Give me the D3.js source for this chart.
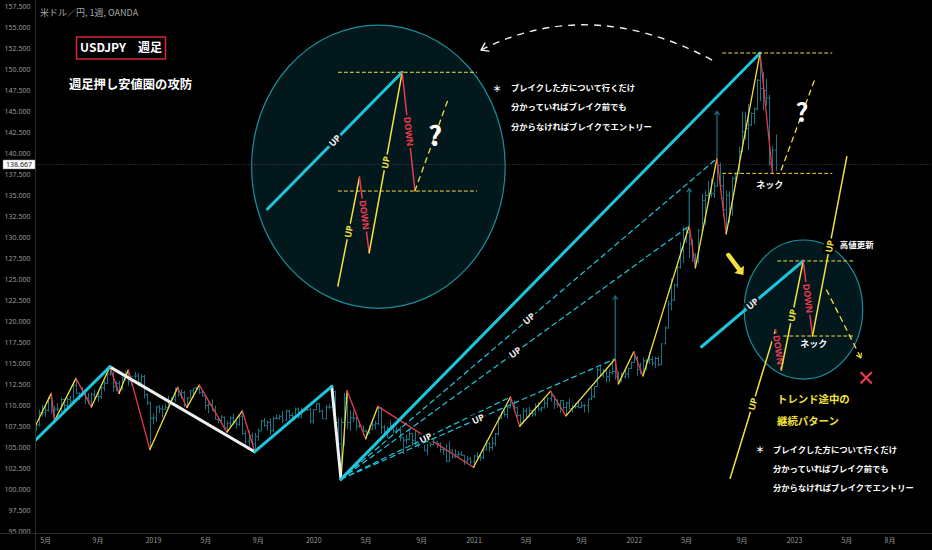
<!DOCTYPE html>
<html lang="ja">
<head>
<meta charset="utf-8">
<title>USDJPY 週足</title>
<script src="https://cdn.jsdelivr.net/npm/d3@7"></script>
<style>
  html, body { margin: 0; background: #000; }
  svg { display: block; font-family: "Noto Sans CJK JP", "Noto Sans", sans-serif; }
</style>
</head>
<body>
<div id="chart"></div>
<script>
// OANDA USD/JPY weekly bars, one per Monday from firstWeek (open = previous close)
const firstWeek = "2018-04-09";
const firstOpen = 106.93;
const weekHigh = [
  107.78,107.7,109.47,110.03,109.98,111.0,111.4,109.9,110.27,110.9,110.75,110.9,111.13,112.8,113.18,111.5,112.15,111.5,111.44,111.49,
  111.83,111.75,112.17,112.88,113.7,114.55,114.0,112.85,112.89,113.38,114.08,114.22,113.38,113.95,113.83,113.7,113.6,111.4,110.4,
  108.99,109.9,109.99,109.97,110.16,111.13,110.95,112.08,112.13,111.89,111.69,110.97,111.8,112.06,112.17,112.4,111.69,111.13,110.32,110.67,
  109.93,108.48,108.8,108.66,108.16,108.64,108.99,108.23,108.79,109.32,106.96,106.98,106.73,106.7,107.23,108.26,108.48,108.18,108.47,108.63,
  108.9,108.86,109.29,109.49,109.45,109.1,109.7,109.73,109.7,109.68,109.55,109.68,
  109.54,110.29,110.2,109.5,110.02,110.14,112.23,111.71,108.5,108.5,111.46,111.71,109.38,109.38,108.6,108.05,107.57,107.05,107.6,107.98,
  108.09,109.85,109.74,107.64,107.44,108.16,107.79,107.42,107.43,106.22,106.47,107.05,106.65,106.95,106.55,106.45,106.2,105.7,105.8,106.11,
  105.75,105.54,105.0,105.33,105.68,104.71,104.76,104.55,104.5,104.07,103.92,103.83,
  104.06,104.4,104.09,104.94,105.77,105.63,106.22,106.69,108.64,109.24,109.36,109.85,110.97,110.52,109.78,108.91,109.7,109.69,109.8,109.4,
  110.2,110.33,109.84,110.82,110.97,111.66,111.12,110.7,110.59,110.59,110.37,110.8,110.07,110.25,110.43,110.45,110.16,110.79,112.08,112.25,
  114.46,114.7,114.31,114.44,114.2,114.97,115.52,114.03,113.95,114.25,114.46,115.18,
  116.35,115.84,115.06,115.69,115.49,116.34,115.81,115.77,115.8,117.35,119.4,122.44,125.1,124.45,126.68,129.4,131.25,131.17,131.35,129.77,
  128.1,130.99,135.19,135.59,136.71,137.0,136.57,139.39,138.88,137.46,135.58,135.5,137.23,137.71,140.8,144.99,144.95,145.9,144.89,145.47,
  148.86,151.95,149.71,148.85,146.97,140.8,142.25
];
const weekLow = [
  106.62,106.9,107.47,108.65,108.62,109.2,108.95,108.1,109.25,109.2,109.37,109.37,110.27,110.4,111.37,110.58,111.0,110.1,110.1,109.77,
  110.76,110.38,110.74,111.66,112.5,113.5,111.6,111.62,111.38,111.79,112.9,112.3,112.3,113.13,112.23,112.5,110.81,109.98,104.7,
  107.77,107.99,109.06,108.5,109.5,109.72,110.31,110.36,111.05,110.79,109.76,109.7,110.82,110.84,111.66,111.33,111.0,109.47,109.02,109.29,
  108.27,107.81,108.02,107.05,106.78,107.5,107.66,107.21,107.52,106.5,105.27,105.05,105.09,104.45,105.75,106.9,107.45,106.97,106.48,106.81,
  108.3,108.25,107.89,108.15,108.27,108.24,108.54,108.42,108.43,109.24,109.28,107.85,
  107.77,109.43,109.1,108.3,108.31,109.55,109.71,107.53,105.0,101.18,105.15,107.15,106.92,107.95,106.99,107.26,106.36,105.99,106.5,107.05,
  107.09,107.61,106.58,106.66,106.07,107.17,106.64,106.59,105.68,104.19,105.3,105.81,105.1,105.2,104.95,105.84,104.5,104.0,105.06,105.2,
  104.87,104.34,104.04,103.18,103.2,103.65,103.7,103.65,103.9,102.87,103.2,102.96,
  102.59,103.52,103.33,103.56,104.6,104.42,104.6,105.11,106.38,108.33,108.6,108.41,109.6,109.2,108.6,107.48,107.85,108.34,108.54,108.56,
  108.66,109.32,109.19,109.59,109.7,110.42,109.53,109.7,109.07,109.36,108.72,109.55,109.11,109.6,109.6,109.6,109.12,109.11,110.6,110.82,
  112.2,113.41,113.26,112.72,112.73,113.58,113.05,112.53,112.75,113.14,113.2,114.32,
  115.02,113.48,113.71,113.47,114.15,114.89,114.69,114.4,114.64,114.76,117.27,119.11,121.28,122.38,124.02,126.25,126.95,129.3,127.52,127.03,
  126.36,126.87,130.63,131.49,134.27,134.75,134.67,136.0,135.57,132.51,130.41,131.73,132.56,136.18,137.48,140.14,141.66,140.36,143.28,143.52,
  145.1,146.23,145.11,145.68,138.5,137.68,137.9
];
const weekClose = [
  107.35,107.63,109.04,109.09,109.39,110.78,109.38,109.53,109.54,110.66,109.96,110.67,110.47,112.37,111.42,111.05,111.25,110.87,110.48,111.24,
  110.99,111.02,112.06,112.59,113.69,113.71,112.19,112.55,111.89,113.2,113.82,112.82,113.44,113.47,112.69,113.38,111.23,110.27,108.44,
  108.48,109.77,109.55,109.5,109.73,110.48,110.69,111.93,111.17,111.46,109.91,110.86,111.71,112.02,111.9,111.53,111.09,109.95,110.06,109.29,
  108.29,108.18,108.57,107.3,107.85,108.47,107.88,107.72,108.68,106.6,105.68,106.38,105.38,106.27,106.93,108.1,107.55,107.92,106.94,108.42,
  108.44,108.67,108.2,109.26,108.76,108.67,109.52,108.58,109.38,109.43,109.47,108.1,
  109.46,110.15,109.28,108.38,109.76,109.78,111.6,107.89,105.37,107.92,110.8,107.91,108.48,108.43,107.51,107.5,106.91,106.66,107.14,107.63,
  107.78,109.61,107.37,106.86,107.2,107.53,106.91,107.02,106.12,105.83,105.92,106.62,105.8,105.35,106.23,106.16,104.56,105.56,105.3,105.63,
  105.4,104.72,104.65,103.36,104.62,103.83,104.09,104.16,104.02,103.33,103.58,103.25,
  103.94,103.86,103.78,104.68,105.39,104.94,105.45,106.57,108.36,109.04,108.88,109.68,110.26,109.67,108.78,107.88,109.32,108.6,109.34,108.97,
  109.85,109.52,109.67,110.2,110.76,111.05,110.14,110.07,110.54,109.71,110.25,109.58,109.78,109.84,109.71,109.93,109.95,110.73,111.05,112.22,
  114.21,113.5,114.02,113.4,113.86,114.0,113.38,112.8,113.4,113.71,114.36,115.09,
  115.53,114.2,113.72,115.26,115.23,115.43,114.98,115.55,114.82,117.29,119.18,122.05,122.53,124.31,126.42,128.51,129.82,130.55,129.21,127.87,
  127.13,130.86,134.39,134.97,135.2,135.22,136.08,138.56,136.12,133.28,134.99,133.46,137.0,137.61,140.18,142.58,142.94,143.36,144.74,145.26,
  148.7,147.73,147.47,146.6,138.8,140.38,138.667
];
const lastPrice = 138.667;

const priceTicks = [95, 97.5, 100, 102.5, 105, 107.5, 110, 112.5, 115, 117.5, 120, 122.5, 125, 127.5,
  130, 132.5, 135, 137.5, 140, 142.5, 145, 147.5, 150, 152.5, 155, 157.5];
const timeTicks = [
  ["2018-05-07", "5月"], ["2018-09-03", "9月"], ["2019-01-07", "2019"], ["2019-05-06", "5月"],
  ["2019-09-02", "9月"], ["2020-01-06", "2020"], ["2020-05-04", "5月"], ["2020-09-07", "9月"],
  ["2021-01-04", "2021"], ["2021-05-03", "5月"], ["2021-09-06", "9月"], ["2022-01-03", "2022"],
  ["2022-05-02", "5月"], ["2022-09-05", "9月"], ["2023-01-02", "2023"], ["2023-05-01", "5月"],
  ["2023-08-07", "8月"]
];

// drawn analysis: swing points [date, price]
const swingsA = [
  ["2018-04-09", 106.9], ["2018-05-21", 111.4], ["2018-05-28", 108.1], ["2018-07-16", 113.18],
  ["2018-08-20", 109.77], ["2018-10-01", 114.55], ["2018-10-22", 111.38], ["2018-11-12", 114.22],
  ["2018-12-31", 104.7], ["2019-03-04", 112.13], ["2019-03-25", 109.7], ["2019-04-22", 112.4],
  ["2019-06-24", 106.78], ["2019-07-29", 109.32], ["2019-08-26", 104.45]
];
const swingsB = [
  ["2020-03-09", 101.18], ["2020-03-23", 111.71], ["2020-05-04", 105.99], ["2020-06-01", 109.85],
  ["2021-01-04", 102.59], ["2021-03-29", 110.97], ["2021-04-19", 107.48], ["2021-06-28", 111.66],
  ["2021-08-02", 108.72], ["2021-11-22", 115.52], ["2021-11-29", 112.53], ["2022-01-03", 116.35],
  ["2022-01-24", 113.47], ["2022-05-09", 131.35], ["2022-05-23", 126.36], ["2022-07-11", 139.39],
  ["2022-08-01", 130.41], ["2022-10-17", 151.95], ["2022-11-14", 137.68]
];
const cyanTrends = [
  [["2018-04-09", 105.5], ["2018-10-01", 114.55]],
  [["2019-08-26", 104.45], ["2020-02-17", 112.23]],
  [["2020-03-09", 101.18], ["2022-10-17", 151.95]]
];
const whiteTrends = [
  [["2018-10-01", 114.55], ["2019-08-26", 104.45]],
  [["2020-02-17", 112.23], ["2020-03-09", 101.18]]
];
const rayStart = ["2020-03-09", 101.18];
const rayEnds = [["2021-03-29", 110.97], ["2021-11-22", 115.52], ["2022-05-09", 131.35], ["2022-07-11", 139.39]];
const targetArrows = [["2021-11-22", 115.52, 123.0], ["2022-05-09", 131.35, 135.8], ["2022-07-11", 139.39, 145.0]];
const mainGuides = [151.95, 137.61];
const mainGuideSpan = ["2022-07-24", "2023-03-29"];
const mainNextLeg = [["2022-12-04", 138.01], ["2023-02-19", 148.93]];
const mainQuestion = ["2023-01-20", 144.8];
const mainNeck = ["2022-11-08", 136.3];
const returnArc = [["2022-06-30", 151.11], ["2021-09-26", 158.86], ["2021-01-21", 152.3]];

// left inset (pattern sketch)
const insetLBox = [["2019-08-19", 121.53], ["2021-03-17", 155.28]];
const insetLTrend = [["2019-09-24", 133.36], ["2020-07-26", 149.65]];
const insetLWave = [["2020-03-02", 124.19], ["2020-04-20", 137.14], ["2020-05-12", 128.15], ["2020-07-26", 149.65], ["2020-08-24", 135.54]];
const insetLGuides = [149.65, 135.5];
const insetLGuideSpan = ["2020-03-03", "2021-01-11"];
const insetLNext = [["2020-08-24", 135.54], ["2020-11-06", 146.23]];
const insetLQuestion = ["2020-10-09", 141.98];

// right inset (continuation pattern)
const insetRBox = [["2022-09-11", 113.1], ["2023-06-07", 129.67]];
const insetRTrend = [["2022-06-06", 116.95], ["2023-01-23", 127.17]];
const insetRWave = [["2022-08-10", 101.28], ["2022-11-21", 118.94], ["2022-12-04", 114.18], ["2023-01-23", 127.17], ["2023-02-13", 118.23], ["2023-05-02", 139.59]];
const insetRGuides = [127.17, 118.23];
const insetRGuideSpan = ["2022-11-26", "2023-05-21"];
const insetRFail = [["2023-03-17", 123.71], ["2023-06-03", 115.61]];
const insetRCross = ["2023-06-15", 113.26];
const insetRNeck = ["2023-02-16", 117.36];
const insetRHigh = ["2023-04-16", 129.07];
const pointerArrow = [["2022-08-06", 127.88], ["2022-09-09", 125.5]];

const noteLines = ["ブレイクした方について行くだけ", "分かっていればブレイク前でも", "分からなければブレイクでエントリー"];
const patternTitle = ["トレンド途中の", "継続パターン"];

class AnnotatedWeeklyChart {
  constructor(_config) {
    this.config = {
      parentElement: _config.parentElement,
      width: 932,
      height: 550,
      plotLeft: 35.5,
      plotBottom: 533.5,
    };
    this.colors = {
      cyan: "#1cc6dc", yellow: "#f2e03c", red: "#ea3a50", white: "#f0f0f0",
      bar: "#1b7484", insetFill: "#03181d", insetStroke: "#1b8e9b", text: "#9c9c9c"
    };
    this.initVis();
  }

  initVis() {
    let vis = this;
    vis.parse = d3.utcParse("%Y-%m-%d");

    vis.x = d3.scaleUtc()
      .domain([vis.parse("2019-01-07"), vis.parse("2023-01-02")])
      .range([153, 794]);
    vis.y = d3.scaleLinear().domain([95, 157.5]).range([531, 6.4]);
    vis.p = (d) => [vis.x(vis.parse(d[0])), vis.y(d[1])];

    vis.bars = weekClose.map((c, i) => ({
      date: d3.utcDay.offset(vis.parse(firstWeek), 7 * i),
      open: i ? weekClose[i - 1] : firstOpen,
      high: weekHigh[i],
      low: weekLow[i],
      close: c,
    }));

    vis.svg = d3.select(vis.config.parentElement).append("svg")
      .attr("width", vis.config.width)
      .attr("height", vis.config.height)
      .style("background", "#000");

    vis.svg.append("clipPath").attr("id", "plot-clip")
      .append("rect")
      .attr("x", vis.config.plotLeft + 0.5).attr("y", 0)
      .attr("width", vis.config.width - vis.config.plotLeft)
      .attr("height", vis.config.plotBottom);

    vis.axisG = vis.svg.append("g");
    vis.plot = vis.svg.append("g").attr("clip-path", "url(#plot-clip)");
    vis.overlay = vis.svg.append("g");

    vis.renderVis();
  }

  seg(g, a, b, color, width, dash) {
    g.append("line")
      .attr("x1", a[0]).attr("y1", a[1]).attr("x2", b[0]).attr("y2", b[1])
      .attr("stroke", color).attr("stroke-width", width)
      .attr("stroke-dasharray", dash || null)
      .attr("stroke-linecap", "round");
  }

  label(g, a, b, txt, color, bg) {
    const [p, q] = a[0] <= b[0] ? [a, b] : [b, a];
    const ang = (Math.atan2(q[1] - p[1], q[0] - p[0]) * 180) / Math.PI;
    g.append("text")
      .attr("transform", `translate(${(a[0] + b[0]) / 2},${(a[1] + b[1]) / 2}) rotate(${ang})`)
      .attr("text-anchor", "middle").attr("dy", "0.36em")
      .attr("fill", color).attr("stroke", bg).attr("stroke-width", 5)
      .attr("paint-order", "stroke")
      .style("font-family", "'Noto Sans', Roboto, sans-serif")
      .style("font-size", "9px").style("font-weight", 700)
      .text(txt);
  }

  chevron(g, tip, from, len, spread, color, width) {
    const ang = Math.atan2(tip[1] - from[1], tip[0] - from[0]);
    const a1 = ang + Math.PI - spread, a2 = ang + Math.PI + spread;
    g.append("path")
      .attr("d", `M${tip[0] + len * Math.cos(a1)},${tip[1] + len * Math.sin(a1)}L${tip[0]},${tip[1]}L${tip[0] + len * Math.cos(a2)},${tip[1] + len * Math.sin(a2)}`)
      .attr("fill", "none").attr("stroke", color).attr("stroke-width", width)
      .attr("stroke-linecap", "round").attr("stroke-linejoin", "round");
  }

  ellipse(g, box) {
    const a = this.p(box[0]), b = this.p(box[1]);
    const e = { cx: (a[0] + b[0]) / 2, cy: (a[1] + b[1]) / 2, rx: Math.abs(b[0] - a[0]) / 2, ry: Math.abs(b[1] - a[1]) / 2 };
    g.append("ellipse")
      .attr("cx", e.cx).attr("cy", e.cy).attr("rx", e.rx).attr("ry", e.ry)
      .attr("fill", this.colors.insetFill)
      .attr("stroke", this.colors.insetStroke).attr("stroke-width", 1.2);
    return e;
  }

  bgAt(e, pt) {
    const k = ((pt[0] - e.cx) / e.rx) ** 2 + ((pt[1] - e.cy) / e.ry) ** 2;
    return k < 0.97 ? this.colors.insetFill : "#000";
  }

  wave(g, pts, labelled, e) {
    let vis = this;
    pts.forEach((d, i) => {
      if (!i) return;
      const a = vis.p(pts[i - 1]), b = vis.p(d);
      const up = d[1] > pts[i - 1][1];
      const col = up ? vis.colors.yellow : vis.colors.red;
      vis.seg(g, a, b, col, labelled ? 1.5 : 1.3);
      if (labelled) {
        const mid = [(a[0] + b[0]) / 2, (a[1] + b[1]) / 2];
        vis.label(g, a, b, up ? "UP" : "DOWN", col, vis.bgAt(e, mid));
      }
    });
  }

  text(g, x, y, txt, size, color, anchor, weight) {
    return g.append("text")
      .attr("x", x).attr("y", y).attr("dy", "0.36em")
      .attr("text-anchor", anchor || "start")
      .attr("fill", color)
      .style("font-size", size + "px")
      .style("font-weight", weight || 700)
      .text(txt);
  }

  renderVis() {
    let vis = this;
    const C = vis.colors;
    const cfg = vis.config;

    // axes
    vis.axisG.append("g")
      .attr("transform", `translate(${cfg.plotLeft},0)`)
      .call(d3.axisLeft(vis.y).tickValues(priceTicks).tickFormat(d3.format(".3f")).tickSize(0).tickPadding(5))
      .call((g) => g.select(".domain").remove())
      .call((g) => g.selectAll("text").attr("fill", C.text).style("font-size", "7px")
        .style("font-family", "'Noto Sans', Roboto, sans-serif"));

    const tickLabel = new Map(timeTicks.map((d) => [+vis.parse(d[0]), d[1]]));
    vis.axisG.append("g")
      .attr("transform", `translate(0,${cfg.plotBottom})`)
      .call(d3.axisBottom(vis.x).tickValues(timeTicks.map((d) => vis.parse(d[0])))
        .tickFormat((d) => tickLabel.get(+d)).tickSize(0).tickPadding(5))
      .call((g) => g.select(".domain").remove())
      .call((g) => g.selectAll("text").attr("fill", C.text).style("font-size", "7px")
        .style("font-family", "'Noto Sans CJK JP', 'Noto Sans', sans-serif"));

    vis.axisG.append("line")
      .attr("x1", cfg.plotLeft).attr("x2", cfg.plotLeft).attr("y1", 0).attr("y2", cfg.height)
      .attr("stroke", "#2c2c2c");
    vis.axisG.append("line")
      .attr("x1", 0).attr("x2", cfg.width).attr("y1", cfg.plotBottom).attr("y2", cfg.plotBottom)
      .attr("stroke", "#2c2c2c");

    // weekly OHLC bars
    vis.plot.selectAll(".bar")
      .data(vis.bars)
      .join("path")
      .attr("class", "bar")
      .attr("d", (d) => {
        const x = Math.round(vis.x(d.date)) + 0.5;
        return `M${x},${vis.y(d.high)}V${vis.y(d.low)}M${x - 1.5},${vis.y(d.open)}H${x}M${x},${vis.y(d.close)}H${x + 1.5}`;
      })
      .attr("fill", "none")
      .attr("stroke", C.bar)
      .attr("stroke-width", 1);

    // inset backgrounds
    const eL = vis.ellipse(vis.plot, insetLBox);
    const eR = vis.ellipse(vis.plot, insetRBox);

    // last price line
    vis.plot.append("line")
      .attr("x1", cfg.plotLeft).attr("x2", cfg.width)
      .attr("y1", vis.y(lastPrice)).attr("y2", vis.y(lastPrice))
      .attr("stroke", "#4a4a4a").attr("stroke-dasharray", "1,2");

    const g = vis.plot.append("g");

    // swing zigzags
    vis.wave(g, swingsA, false);
    vis.wave(g, swingsB, false);

    // rays from the 2020 low
    const r0 = vis.p(rayStart);
    rayEnds.forEach((d) => {
      const r1 = vis.p(d);
      vis.seg(g, r0, r1, C.cyan, 1.2, "5,4");
      vis.label(g, r0, r1, "UP", C.white, "#000");
    });

    // target arrows
    targetArrows.forEach((d) => {
      const a = vis.p([d[0], d[1]]), b = vis.p([d[0], d[2]]);
      vis.seg(g, a, b, C.bar, 1.2);
      vis.chevron(g, b, a, 4, 0.6, C.bar, 1.2);
    });

    // main trend lines
    whiteTrends.forEach((d) => vis.seg(g, vis.p(d[0]), vis.p(d[1]), C.white, 3));
    cyanTrends.forEach((d) => vis.seg(g, vis.p(d[0]), vis.p(d[1]), C.cyan, 3));

    // top right: high / neck guides and next leg
    mainGuides.forEach((v) => {
      vis.seg(g, vis.p([mainGuideSpan[0], v]), vis.p([mainGuideSpan[1], v]), C.yellow, 1, "3,3");
    });
    vis.seg(g, vis.p(mainNextLeg[0]), vis.p(mainNextLeg[1]), C.yellow, 1.3, "5,5");
    const mq = vis.p(mainQuestion);
    vis.text(g, mq[0], mq[1], "?", 25, "#fff", "middle", 700);
    const mn = vis.p(mainNeck);
    vis.text(g, mn[0], mn[1], "ネック", 9, "#fff", "middle", 700);

    // left inset
    const lt0 = vis.p(insetLTrend[0]), lt1 = vis.p(insetLTrend[1]);
    insetLGuides.forEach((v) => {
      vis.seg(g, vis.p([insetLGuideSpan[0], v]), vis.p([insetLGuideSpan[1], v]), C.yellow, 1, "3,3");
    });
    vis.seg(g, lt0, lt1, C.cyan, 3);
    vis.label(g, lt0, lt1, "UP", C.white, C.insetFill);
    vis.wave(g, insetLWave, true, eL);
    vis.seg(g, vis.p(insetLNext[0]), vis.p(insetLNext[1]), C.yellow, 1.3, "5,5");
    const lq = vis.p(insetLQuestion);
    vis.text(g, lq[0], lq[1], "?", 27, "#fff", "middle", 700);

    // right inset
    insetRGuides.forEach((v) => {
      vis.seg(g, vis.p([insetRGuideSpan[0], v]), vis.p([insetRGuideSpan[1], v]), C.yellow, 1, "3,3");
    });
    const rt0 = vis.p(insetRTrend[0]), rt1 = vis.p(insetRTrend[1]);
    vis.seg(g, rt0, rt1, C.cyan, 3);
    vis.label(g, rt0, rt1, "UP", C.white, vis.bgAt(eR, [(rt0[0] + rt1[0]) / 2, (rt0[1] + rt1[1]) / 2]));
    vis.wave(g, insetRWave, true, eR);
    const f0 = vis.p(insetRFail[0]), f1 = vis.p(insetRFail[1]);
    vis.seg(g, f0, f1, C.yellow, 1.3, "5,5");
    vis.chevron(g, f1, f0, 5, 0.55, C.yellow, 1.2);
    const cx = vis.p(insetRCross);
    g.append("path")
      .attr("d", `M${cx[0] - 5},${cx[1] - 5}L${cx[0] + 5},${cx[1] + 5}M${cx[0] + 5},${cx[1] - 5}L${cx[0] - 5},${cx[1] + 5}`)
      .attr("stroke", C.red).attr("stroke-width", 2.2).attr("stroke-linecap", "round");
    const rn = vis.p(insetRNeck);
    vis.text(g, rn[0], rn[1], "ネック", 9, "#fff", "middle", 700);
    const rh = vis.p(insetRHigh);
    vis.text(g, rh[0], rh[1], "高値更新", 8.5, "#fff", "start", 700);

    // pointer arrow toward the right inset
    const pa = vis.p(pointerArrow[0]), pb = vis.p(pointerArrow[1]);
    const ang = Math.atan2(pb[1] - pa[1], pb[0] - pa[0]);
    const back = [pb[0] - 7 * Math.cos(ang), pb[1] - 7 * Math.sin(ang)];
    vis.seg(g, pa, back, C.yellow, 4.5);
    g.append("path")
      .attr("d", `M${pb[0]},${pb[1]}L${back[0] + 6 * Math.sin(ang)},${back[1] - 6 * Math.cos(ang)}L${back[0] - 6 * Math.sin(ang)},${back[1] + 6 * Math.cos(ang)}Z`)
      .attr("fill", C.yellow);

    // dashed return arc
    const s = vis.p(returnArc[0]), c = vis.p(returnArc[1]), e = vis.p(returnArc[2]);
    g.append("path")
      .attr("d", `M${s[0]},${s[1]}Q${c[0]},${c[1]} ${e[0]},${e[1]}`)
      .attr("fill", "none").attr("stroke", C.white).attr("stroke-width", 1.4)
      .attr("stroke-dasharray", "7,6");
    vis.chevron(g, e, c, 8, 0.6, C.white, 1.4);

    // texts
    const o = vis.overlay;
    vis.text(o, 40, 12.5, "米ドル／円, 1週, OANDA", 9, "#a6a6a6", "start", 400);
    o.append("rect")
      .attr("x", 76.5).attr("y", 37).attr("width", 89).attr("height", 22)
      .attr("fill", "none").attr("stroke", "#d7263d").attr("stroke-width", 1.5);
    vis.text(o, 121, 48, "USDJPY　週足", 12, "#fff", "middle", 700);
    vis.text(o, 69, 85, "週足押し安値圏の攻防", 12.3, "#fff", "start", 700);

    [[497, 511, 88.3], [760, 773, 450]].forEach(([sx, tx, ty]) => {
      vis.text(o, sx, ty, "＊", 9, "#fff", "middle", 700);
      noteLines.forEach((t, i) => vis.text(o, tx, ty + i * 19.2, t, 8.3, "#fff", "start", 700));
    });
    patternTitle.forEach((t, i) => vis.text(o, 777, 399 + i * 22.7, t, 10.4, C.yellow, "start", 700));

    // last price tag
    const ly = vis.y(lastPrice);
    o.append("rect")
      .attr("x", 3).attr("y", ly - 4.5).attr("width", 32).attr("height", 9)
      .attr("fill", "#fff").attr("stroke", "#888").attr("stroke-width", 0.5);
    vis.text(o, 19, ly, d3.format(".3f")(lastPrice), 7, "#111", "middle", 400)
      .style("font-family", "'Noto Sans', Roboto, sans-serif");
  }
}

new AnnotatedWeeklyChart({ parentElement: "#chart" });
</script>
</body>
</html>
